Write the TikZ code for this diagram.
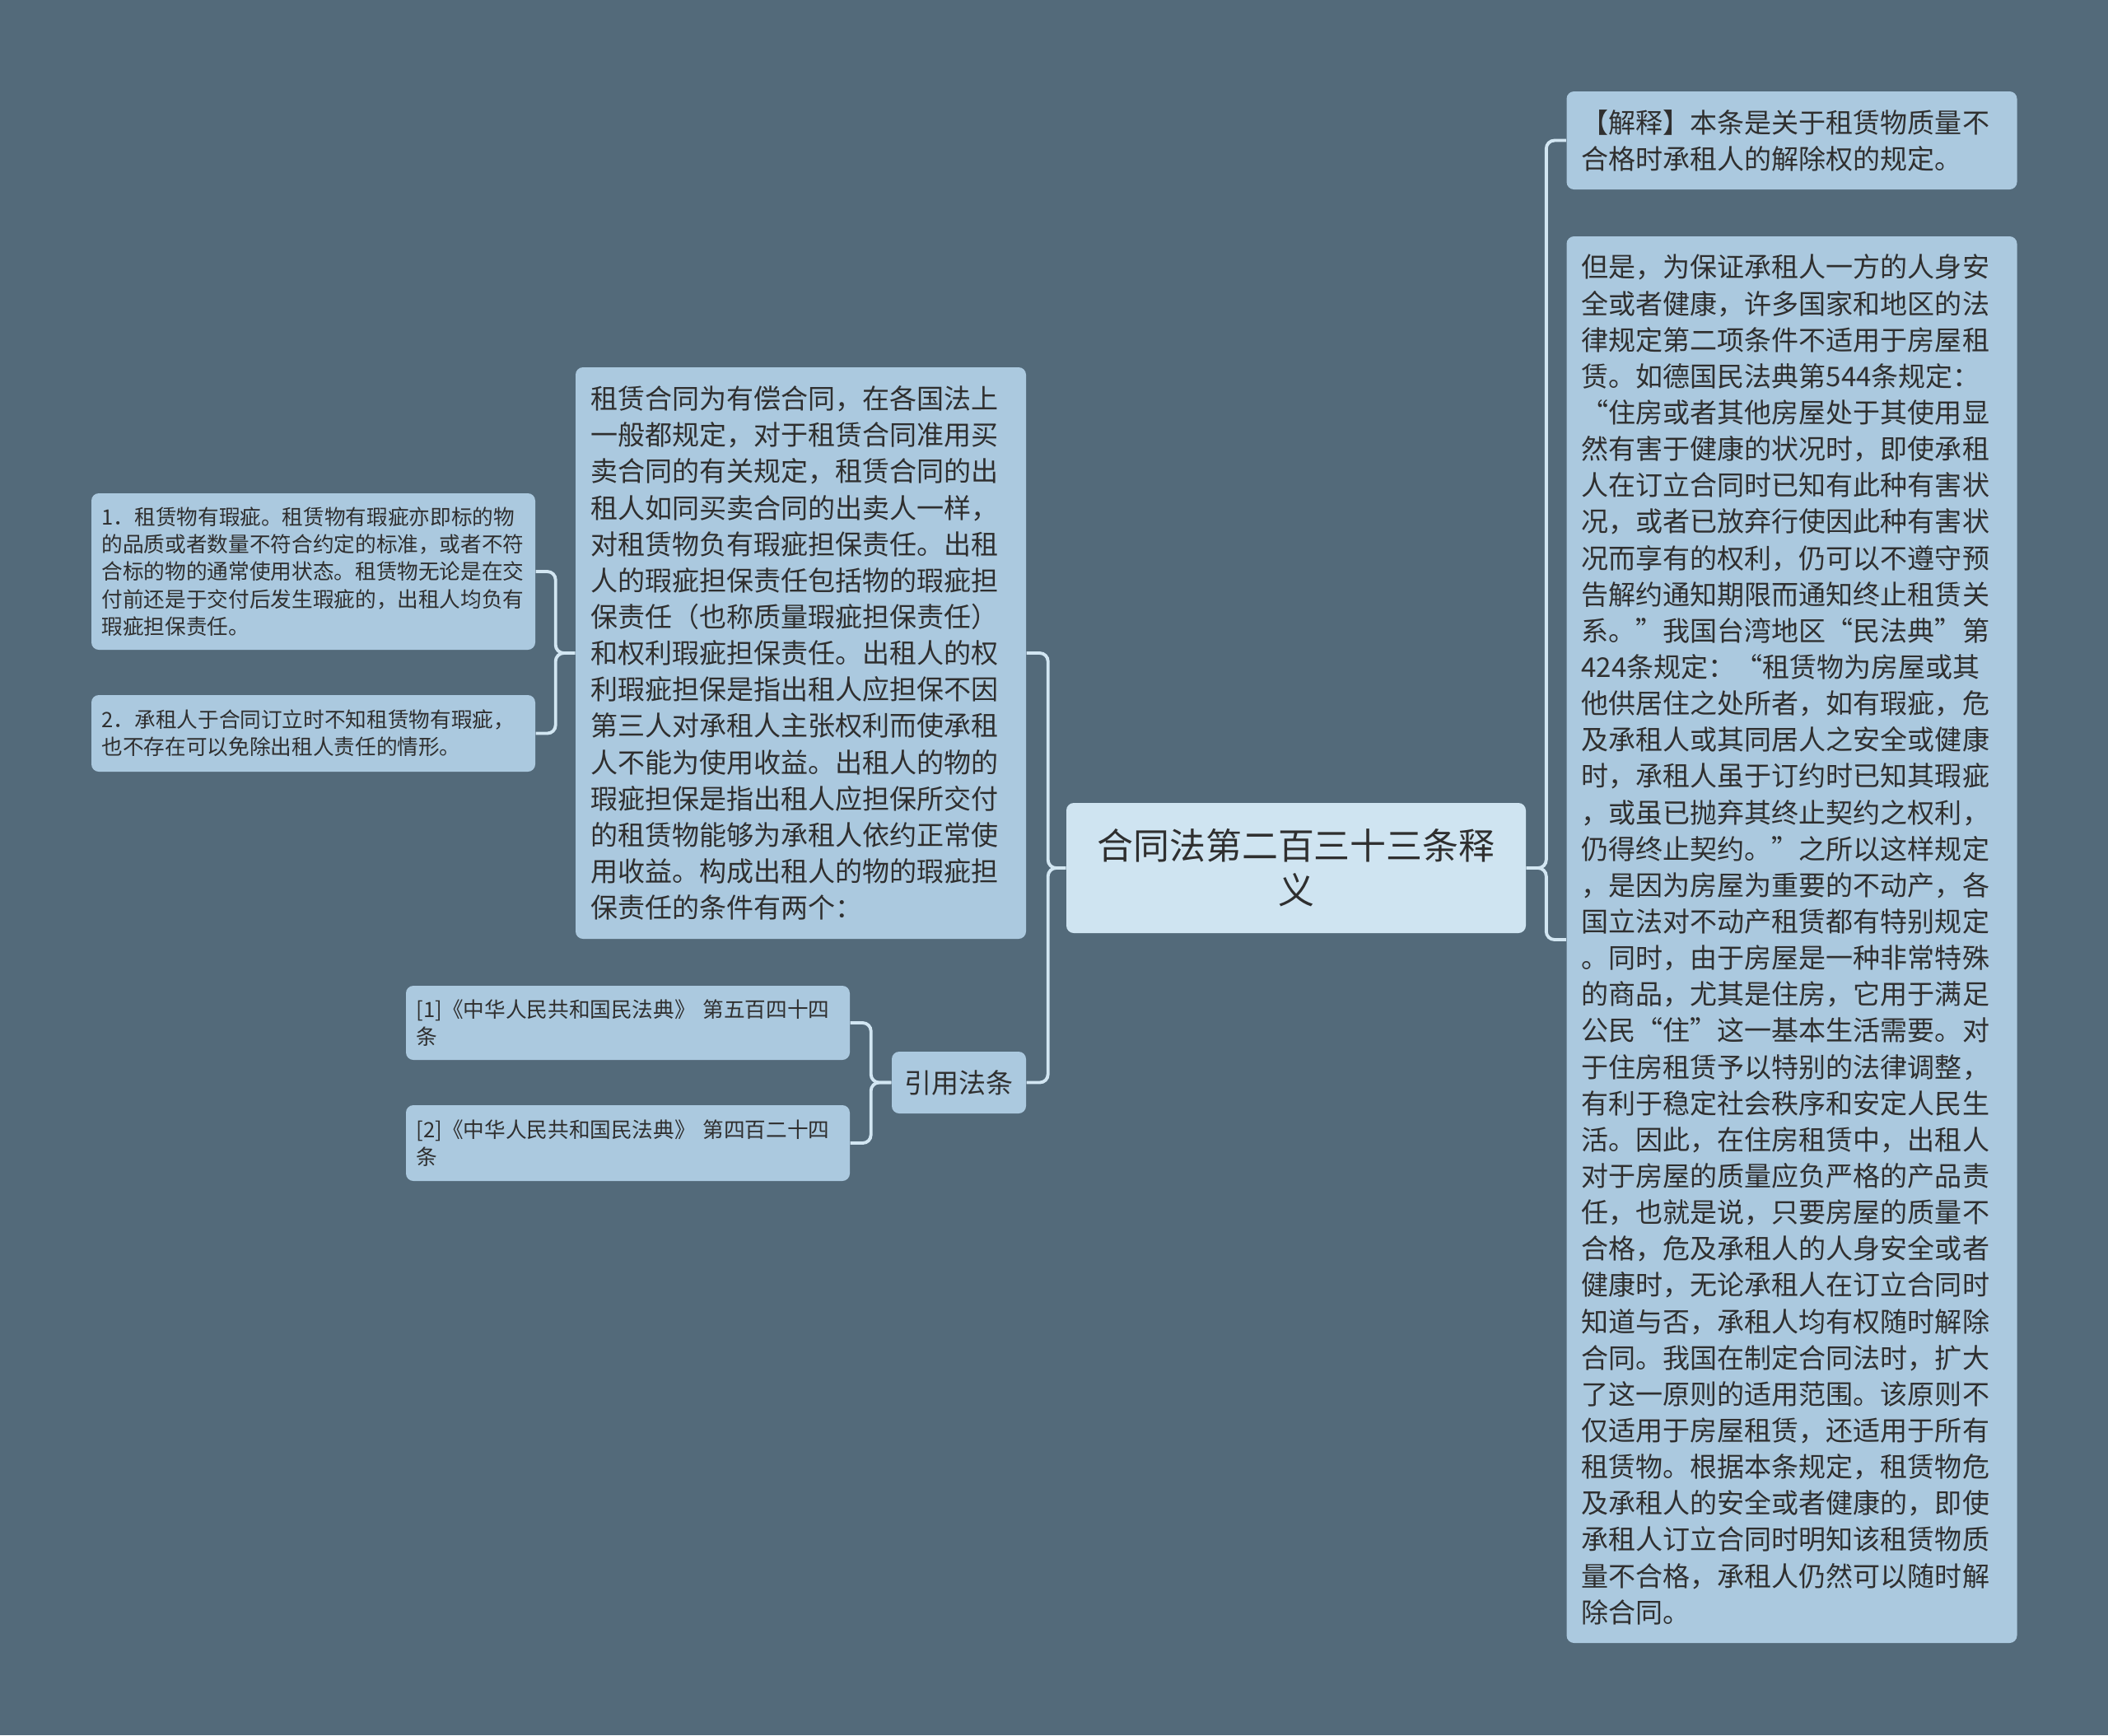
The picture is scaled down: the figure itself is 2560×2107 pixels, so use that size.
\documentclass[tikz,border=0pt]{standalone}
\usepackage{fontspec}
\setmainfont{Noto Sans CJK SC}
\definecolor{bgslate}{HTML}{536A7A}
\definecolor{leafblue}{HTML}{ABC9DF}
\definecolor{rootblue}{HTML}{CFE4F1}
\definecolor{inkgray}{HTML}{2F2F2F}
\definecolor{linkblue}{HTML}{D2E6F2}

\begin{document}
\begin{tikzpicture}[x=0.1mm, y=-0.1mm,
		box/.style={fill=leafblue, rounded corners=0.9mm, text=inkgray, align=left, anchor=center},
		bigbox/.style={box, font=\fontsize{9.4}{12.56}\selectfont, inner xsep=1.8mm, inner ysep=0pt, text width=51.1mm},
		smallbox/.style={box, font=\fontsize{7.3}{9.5}\selectfont, inner xsep=1.25mm, inner ysep=0pt, text width=51.4mm},
		link/.style={draw=linkblue, line width=1.1pt, rounded corners=1mm}]
			\fill [bgslate] (0, 0) rectangle (2560, 2107);
			\useasboundingbox (0, 0) rectangle (2560, 2107);

			\node [box, fill=rootblue, font=\fontsize{12.5}{15.4}\selectfont, align=center, inner sep=0pt,
			minimum width=55.8mm, minimum height=15.8mm] (root) at (1574, 1054) {合同法第二百三十三条释\\义};

			\node [bigbox, minimum height=69.4mm] (main) at (972.5, 793) {租赁合同为有偿合同，在各国法上\\
			一般都规定，对于租赁合同准用买\\卖合同的有关规定，租赁合同的出\\租人如同买卖合同的出卖人一样，\\
			对租赁物负有瑕疵担保责任。出租\\人的瑕疵担保责任包括物的瑕疵担\\保责任（也称质量瑕疵担保责任）\\
			和权利瑕疵担保责任。出租人的权\\利瑕疵担保是指出租人应担保不因\\第三人对承租人主张权利而使承租\\
			人不能为使用收益。出租人的物的\\瑕疵担保是指出租人应担保所交付\\的租赁物能够为承租人依约正常使\\
			用收益。构成出租人的物的瑕疵担\\保责任的条件有两个：};

			\node [smallbox, minimum height=19mm] (cond1) at (380.5, 694) {1．租赁物有瑕疵。租赁物有瑕疵亦即标的物\\
			的品质或者数量不符合约定的标准，或者不符\\合标的物的通常使用状态。租赁物无论是在交\\
			付前还是于交付后发生瑕疵的，出租人均负有\\瑕疵担保责任。};

			\node [smallbox, minimum height=9.3mm] (cond2) at (380.5, 890.5) {2．承租人于合同订立时不知租赁物有瑕疵，\\
			也不存在可以免除出租人责任的情形。};

			\node [box, font=\fontsize{9.4}{12.56}\selectfont, align=center, inner sep=0pt,
			minimum width=16.3mm, minimum height=7.5mm] (cite) at (1164.5, 1314.5) {引用法条};

			\node [smallbox, minimum height=9mm] (ref1) at (762.5, 1242) {[1]《中华人民共和国民法典》 第五百四十四\\条};

			\node [smallbox, minimum height=9.2mm] (ref2) at (762.5, 1388) {[2]《中华人民共和国民法典》 第四百二十四\\条};

			\node [bigbox, minimum height=11.9mm] (note) at (2176, 170.5) {【解释】本条是关于租赁物质量不\\合格时承租人的解除权的规定。};

			\node [bigbox, minimum height=170.8mm] (detail) at (2176, 1141) {但是，为保证承租人一方的人身安\\
			全或者健康，许多国家和地区的法\\律规定第二项条件不适用于房屋租\\赁。如德国民法典第544条规定：\\
			“住房或者其他房屋处于其使用显\\然有害于健康的状况时，即使承租\\人在订立合同时已知有此种有害状\\
			况，或者已放弃行使因此种有害状\\况而享有的权利，仍可以不遵守预\\告解约通知期限而通知终止租赁关\\
			系。”我国台湾地区“民法典”第\\424条规定：“租赁物为房屋或其\\他供居住之处所者，如有瑕疵，危\\
			及承租人或其同居人之安全或健康\\时，承租人虽于订约时已知其瑕疵\\，或虽已抛弃其终止契约之权利，\\
			仍得终止契约。”之所以这样规定\\，是因为房屋为重要的不动产，各\\国立法对不动产租赁都有特别规定\\
			。同时，由于房屋是一种非常特殊\\的商品，尤其是住房，它用于满足\\公民“住”这一基本生活需要。对\\
			于住房租赁予以特别的法律调整，\\有利于稳定社会秩序和安定人民生\\活。因此，在住房租赁中，出租人\\
			对于房屋的质量应负严格的产品责\\任，也就是说，只要房屋的质量不\\合格，危及承租人的人身安全或者\\
			健康时，无论承租人在订立合同时\\知道与否，承租人均有权随时解除\\合同。我国在制定合同法时，扩大\\
			了这一原则的适用范围。该原则不\\仅适用于房屋租赁，还适用于所有\\租赁物。根据本条规定，租赁物危\\
			及承租人的安全或者健康的，即使\\承租人订立合同时明知该租赁物质\\量不合格，承租人仍然可以随时解\\
			除合同。};

			\draw [link] (root.west) -| ([xshift=2.6mm]main.east) -- (main.east);
			\draw [link] (root.west) -| ([xshift=2.6mm]cite.east) -- (cite.east);
			\draw [link] (root.east) -| ([xshift=-2.4mm]note.west) -- (note.west);
			\draw [link] (root.east) -| ([xshift=-2.4mm]detail.west) -- (detail.west);
			\draw [link] (main.west) -| ([xshift=2.4mm]cond1.east) -- (cond1.east);
			\draw [link] (main.west) -| ([xshift=2.4mm]cond2.east) -- (cond2.east);
			\draw [link] (cite.west) -| ([xshift=2.5mm]ref1.east) -- (ref1.east);
			\draw [link] (cite.west) -| ([xshift=2.5mm]ref2.east) -- (ref2.east);
		\end{tikzpicture}
\end{document}
